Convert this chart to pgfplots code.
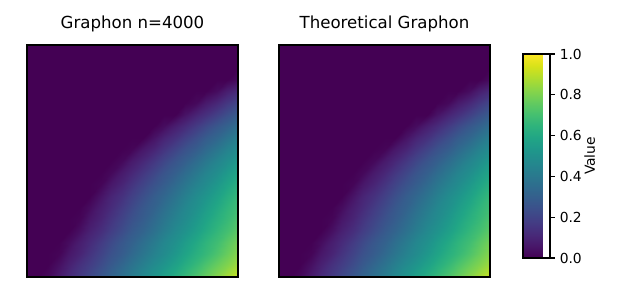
\documentclass[border=0pt]{standalone}
\usepackage{fontspec}
\setmainfont{DejaVu Sans}
\usepackage{pgfplots}
\pgfplotsset{compat=1.18}
\usepackage{pgfplotstable}

% graphon values on a 21 x 21 grid: rows u = 0,0.05,...,1 (top to bottom), columns v = 0,0.05,...,1
\pgfplotstableread[row sep=\\]{
z\\
0\\0\\0\\0\\0\\0\\0\\0\\0\\0\\0\\0\\0\\0\\0\\0\\0\\0\\0\\0\\0\\
0\\0\\0\\0\\0\\0\\0\\0\\0\\0\\0\\0\\0\\0\\0\\0\\0\\0\\0\\0\\0\\
0\\0\\0\\0\\0\\0\\0\\0\\0\\0\\0\\0\\0\\0\\0\\0\\0\\0\\0\\0\\0\\
0\\0\\0\\0\\0\\0\\0\\0\\0\\0\\0\\0\\0\\0\\0\\0\\0\\0\\0\\0\\0.03\\
0\\0\\0\\0\\0\\0\\0\\0\\0\\0\\0\\0\\0\\0\\0\\0\\0\\0\\0.03\\0.08\\0.12\\
0\\0\\0\\0\\0\\0\\0\\0\\0\\0\\0\\0\\0\\0\\0\\0\\0.02\\0.07\\0.11\\0.16\\0.21\\
0\\0\\0\\0\\0\\0\\0\\0\\0\\0\\0\\0\\0\\0\\0\\0.05\\0.10\\0.14\\0.19\\0.24\\0.29\\
0\\0\\0\\0\\0\\0\\0\\0\\0\\0\\0\\0\\0\\0.03\\0.08\\0.12\\0.17\\0.22\\0.27\\0.31\\0.36\\
0\\0\\0\\0\\0\\0\\0\\0\\0\\0\\0\\0\\0.05\\0.10\\0.14\\0.19\\0.24\\0.29\\0.33\\0.38\\0.43\\
0\\0\\0\\0\\0\\0\\0\\0\\0\\0\\0.01\\0.06\\0.10\\0.15\\0.20\\0.25\\0.29\\0.34\\0.39\\0.44\\0.48\\
0\\0\\0\\0\\0\\0\\0\\0\\0\\0.02\\0.07\\0.11\\0.16\\0.21\\0.26\\0.30\\0.35\\0.40\\0.45\\0.49\\0.54\\
0\\0\\0\\0\\0\\0\\0\\0\\0.02\\0.07\\0.11\\0.16\\0.21\\0.26\\0.30\\0.35\\0.40\\0.45\\0.49\\0.54\\0.59\\
0\\0\\0\\0\\0\\0\\0\\0.01\\0.06\\0.10\\0.15\\0.20\\0.25\\0.29\\0.34\\0.39\\0.44\\0.48\\0.53\\0.58\\0.63\\
0\\0\\0\\0\\0\\0\\0\\0.05\\0.10\\0.14\\0.19\\0.24\\0.29\\0.33\\0.38\\0.43\\0.48\\0.52\\0.57\\0.62\\0.67\\
0\\0\\0\\0\\0\\0\\0.03\\0.08\\0.12\\0.17\\0.22\\0.27\\0.31\\0.36\\0.41\\0.46\\0.50\\0.55\\0.60\\0.65\\0.69\\
0\\0\\0\\0\\0\\0.01\\0.06\\0.10\\0.15\\0.20\\0.25\\0.29\\0.34\\0.39\\0.44\\0.48\\0.53\\0.58\\0.63\\0.67\\0.72\\
0\\0\\0\\0\\0\\0.04\\0.09\\0.13\\0.18\\0.23\\0.28\\0.32\\0.37\\0.42\\0.47\\0.51\\0.56\\0.61\\0.66\\0.70\\0.75\\
0\\0\\0\\0\\0.03\\0.08\\0.12\\0.17\\0.22\\0.27\\0.31\\0.36\\0.41\\0.46\\0.50\\0.55\\0.60\\0.65\\0.69\\0.74\\0.79\\
0\\0\\0\\0.01\\0.06\\0.10\\0.15\\0.20\\0.25\\0.29\\0.34\\0.39\\0.44\\0.48\\0.53\\0.58\\0.63\\0.67\\0.72\\0.77\\0.82\\
0\\0\\0\\0.04\\0.09\\0.14\\0.18\\0.23\\0.28\\0.33\\0.38\\0.43\\0.48\\0.52\\0.57\\0.62\\0.67\\0.72\\0.77\\0.81\\0.86\\
0\\0\\0.02\\0.07\\0.12\\0.17\\0.22\\0.27\\0.32\\0.37\\0.42\\0.47\\0.52\\0.57\\0.62\\0.67\\0.72\\0.77\\0.82\\0.87\\0.92\\
}\graphon
% grid positions of the cells
\pgfplotstablecreatecol[expr={mod(\pgfplotstablerow,21)/20}]{v}{\graphon}
\pgfplotstablecreatecol[expr={floor(\pgfplotstablerow/21)/20}]{u}{\graphon}

\pgfplotsset{
  hm/.style={
    anchor=south west, scale only axis,
    width=151.92bp, height=167.04bp,
    xmin=0, xmax=1, ymin=0, ymax=1, y dir=reverse,
    enlargelimits=false,
    xtick=\empty, ytick=\empty,
    colormap/viridis, point meta min=0, point meta max=1,
    axis line style={line width=0.8bp, black},
    axis on top,
    title style={font=\fontsize{12}{14}\selectfont, anchor=base, at={(0.5,1)}, yshift=6bp},
  },
  gplot/.style={surf, shader=interp, mesh/cols=21, point meta=\thisrow{z}},
}

\begin{document}
\begin{tikzpicture}
\useasboundingbox (0bp,0bp) rectangle (457.92bp,214.56bp);

\begin{axis}[hm, at={(19.44bp,15.12bp)}, title={Graphon n=4000}]
\addplot[gplot] table[x=v, y=u] {\graphon};
\end{axis}

\begin{axis}[hm, at={(200.88bp,15.12bp)}, title={Theoretical Graphon},
  colorbar,
  colorbar shift/.style={xshift=23.76bp, yshift=13.68bp},
  colorbar style={
    at={(parent axis.south east)}, anchor=south west,
    scale only axis, width=19.44bp, height=146.88bp,
    ytick={0,0.2,0.4,0.6,0.8,1},
    yticklabel pos=right, ytick pos=right,
    yticklabel style={font=\fontsize{10}{12}\selectfont,
      /pgf/number format/fixed, /pgf/number format/fixed zerofill,
      /pgf/number format/precision=1, /pgf/number format/assume math mode=true},
    ylabel={Value},
    ylabel style={font=\fontsize{10}{12}\selectfont},
    ylabel shift=-5bp,
    major tick length=3.5bp, tick align=outside,
    tick style={line width=0.8bp, black},
    axis line style={line width=0.8bp, black},
  }]
\addplot[gplot] table[x=v, y=u] {\graphon};
\end{axis}
\end{tikzpicture}
\end{document}
